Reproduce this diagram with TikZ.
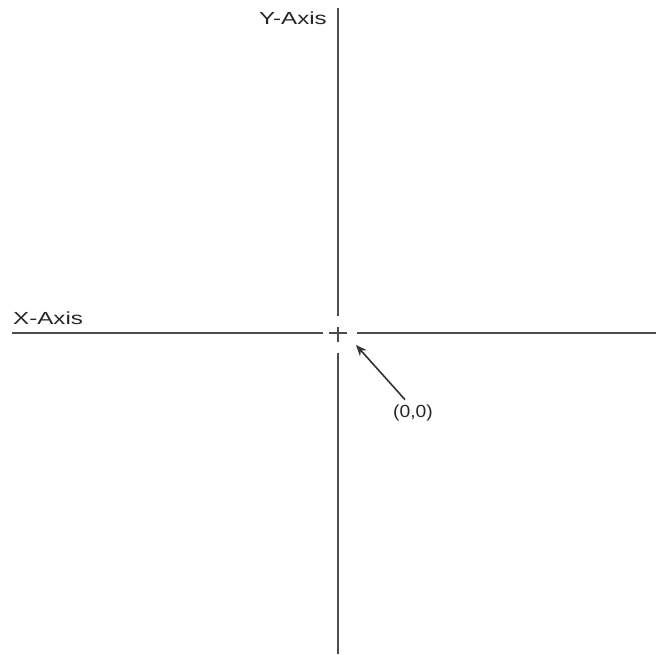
\documentclass[tikz,border=0pt]{standalone}
\usepackage{fontspec}
\setmainfont{Liberation Sans}
\usepackage{tikz}
\usetikzlibrary{positioning, arrows.meta}

\begin{document}
\begin{tikzpicture}[
  x=1pt, y=1pt,
  axis/.style={draw=black!70, line width=1.7pt},
  lbl/.style={inner sep=0pt, text=black!85, font=\fontsize{17.5}{19}\selectfont},
  arr/.style={-{Stealth[length=11pt, width=9pt]}, line width=1.6pt, draw=black!80},
]
\useasboundingbox (0,0) rectangle (656,654);
\coordinate (origin) at (338,321);
% axes, broken around the origin
\draw[axis] (12,321) -- (323,321);
\draw[axis] (357,321) -- (656,321);
\draw[axis] (338,646) -- (338,338);
\draw[axis] (338,301) -- (338,0);
% small cross at the origin
\draw[axis] (329,321) -- (347,321);
\draw[axis] (338,327) -- (338,312);
\node[lbl, anchor=south west] (xaxis) at (13,329) {\scalebox{1.38}[1]{X-Axis}};
\node[lbl, anchor=east] (yaxis) at (327,636) {\scalebox{1.38}[1]{Y-Axis}};
\node[lbl] (zero) at (413,241) {\scalebox{1.1}[1]{(0,0)}};
\coordinate (tip) at (356,309);
\draw[arr] ([xshift=-8pt,yshift=5pt]zero.north) -- (tip);
\end{tikzpicture}
\end{document}
